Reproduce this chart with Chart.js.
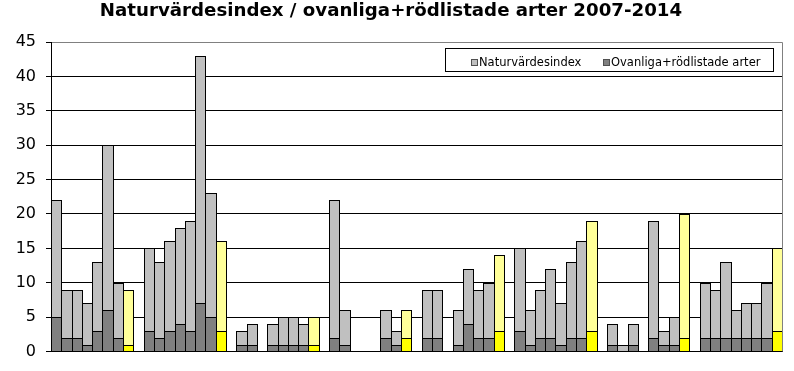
<!DOCTYPE html>
<html><head><meta charset="utf-8">
<script src="https://cdn.jsdelivr.net/npm/chart.js@4.4.1/dist/chart.umd.min.js"></script>
<style>html,body{margin:0;padding:0;background:#fff;} #wrap{position:relative;width:794px;height:371px;}</style>
</head><body><div id="wrap"><canvas id="c" width="794" height="371"></canvas></div>
<script>
const chartTitle = 'Naturvärdesindex / ovanliga+rödlistade arter 2007-2014';
const seriesNames = ['Naturvärdesindex', 'Ovanliga+rödlistade arter'];
const yTicks = [0, 5, 10, 15, 20, 25, 30, 35, 40, 45];
// 8 groups, 8 bars each; last bar of each group is the summary (yellow) bar; null = empty slot
const naturGroups = [
  [22, 9, 9, 7, 13, 30, 10, 9],
  [15, 13, 16, 18, 19, 43, 23, 16],
  [3, 4, null, 4, 5, 5, 4, 5],
  [22, 6, null, null, null, 6, 3, 6],
  [9, 9, null, 6, 12, 9, 10, 14],
  [15, 6, 9, 12, 7, 13, 16, 19],
  [4, 1, 4, null, 19, 3, 5, 20],
  [10, 9, 13, 6, 7, 7, 10, 15]
];
const ovanligaGroups = [
  [5, 2, 2, 1, 3, 6, 2, 1],
  [3, 2, 3, 4, 3, 7, 5, 3],
  [1, 1, null, 1, 1, 1, 1, 1],
  [2, 1, null, null, null, 2, 1, 2],
  [2, 2, null, 1, 4, 2, 2, 3],
  [3, 1, 2, 2, 1, 2, 2, 3],
  [1, 0, 1, null, 2, 1, 1, 2],
  [2, 2, 2, 2, 2, 2, 2, 3]
];

const COL = { light: '#C0C0C0', dark: '#808080', yLight: '#FFFF99', yDark: '#FFFF00' };

const labels = [], natur = [], ovan = [], natCol = [], ovCol = [];
naturGroups.forEach((g, gi) => {
  if (gi > 0) { labels.push(''); natur.push(null); ovan.push(null); natCol.push(COL.light); ovCol.push(COL.dark); }
  g.forEach((v, bi) => {
    const isSum = bi === g.length - 1;
    labels.push('G' + (gi + 1) + '-' + (bi + 1));
    natur.push(v);
    ovan.push(ovanligaGroups[gi][bi]);
    natCol.push(isSum ? COL.yLight : COL.light);
    ovCol.push(isSum ? COL.yDark : COL.dark);
  });
});

const FONT = '"DejaVu Sans", "Liberation Sans", Arial, sans-serif';

// snap library-computed bar geometry to whole pixels so 1px borders are crisp and shared
const snapPlugin = {
  id: 'snap',
  afterDatasetsUpdate(chart) {
    chart.data.datasets.forEach((ds, i) => {
      const meta = chart.getDatasetMeta(i);
      meta.data.forEach(el => {
        if (el.x == null || isNaN(el.x)) return;
        const l = Math.round(el.x - el.width / 2);
        const r = Math.round(el.x + el.width / 2) + 1;
        el.x = (l + r) / 2;
        el.width = r - l;
        el.y = Math.round(el.y);
        el.base = Math.round(el.base);
      });
    });
  }
};

const framePlugin = {
  id: 'frame',
  beforeDatasetsDraw(chart) {
    const { ctx, chartArea: a } = chart;
    ctx.save();
    ctx.strokeStyle = '#808080';
    ctx.lineWidth = 1;
    ctx.beginPath();
    const x = Math.round(a.right) + 0.5;
    ctx.moveTo(x, a.top);
    ctx.lineTo(x, a.bottom);
    ctx.stroke();
    ctx.restore();
  },
  afterDraw(chart) {
    const { ctx } = chart;
    ctx.save();
    ctx.fillStyle = '#fff';
    ctx.fillRect(445, 48, 329, 24);
    ctx.strokeStyle = '#000';
    ctx.lineWidth = 1;
    ctx.strokeRect(445.5, 48.5, 328, 23);
    const items = [
      { x: 471, fill: COL.light, text: chart.data.datasets[1].label },
      { x: 603, fill: COL.dark, text: chart.data.datasets[0].label }
    ];
    ctx.font = '11.5px ' + FONT;
    ctx.textBaseline = 'alphabetic';
    items.forEach(it => {
      ctx.fillStyle = it.fill;
      ctx.fillRect(it.x, 59, 7, 7);
      ctx.strokeStyle = '#505050';
      ctx.strokeRect(it.x + 0.5, 59.5, 6, 6);
      ctx.fillStyle = '#000';
      ctx.fillText(it.text, it.x + 8, 66);
    });
    ctx.restore();
  }
};

new Chart(document.getElementById('c'), {
  type: 'bar',
  data: {
    labels: labels,
    datasets: [
      { label: seriesNames[1], data: ovan, backgroundColor: ovCol, borderColor: '#000', borderWidth: 1, order: 0,
        grouped: false, barPercentage: 1, categoryPercentage: 1, inflateAmount: 0 },
      { label: seriesNames[0], data: natur, backgroundColor: natCol, borderColor: '#000', borderWidth: 1, order: 1,
        grouped: false, barPercentage: 1, categoryPercentage: 1, inflateAmount: 0 }
    ]
  },
  options: {
    responsive: false,
    animation: false,
    devicePixelRatio: 1,
    layout: { padding: { left: 0, right: 12, top: 0, bottom: 0 } },
    plugins: {
      legend: { display: false },
      tooltip: { enabled: false },
      title: {
        display: true, text: chartTitle, color: '#000',
        font: { family: FONT, size: 18.2, weight: 'bold' },
        padding: { top: 0.5, bottom: 19.9 }
      }
    },
    scales: {
      x: {
        type: 'category',
        grid: { display: false },
        ticks: { display: false },
        border: { color: '#000', width: 1 },
        afterFit(s) { s.height = 10; }
      },
      y: {
        min: yTicks[0], max: yTicks[yTicks.length - 1],
        afterBuildTicks(s) { s.ticks = yTicks.map(v => ({ value: v })); },
        ticks: { color: '#000', font: { family: FONT, size: 16 }, padding: 10, stepSize: 5 },
        grid: {
          color: c => (c.tick && c.tick.value === 45) ? '#808080' : '#000',
          tickColor: '#000', tickLength: 5, lineWidth: 1
        },
        border: { color: '#000', width: 1 },
        afterFit(s) { s.width = 51; }
      }
    }
  },
  plugins: [snapPlugin, framePlugin]
});
</script>
</body></html>
